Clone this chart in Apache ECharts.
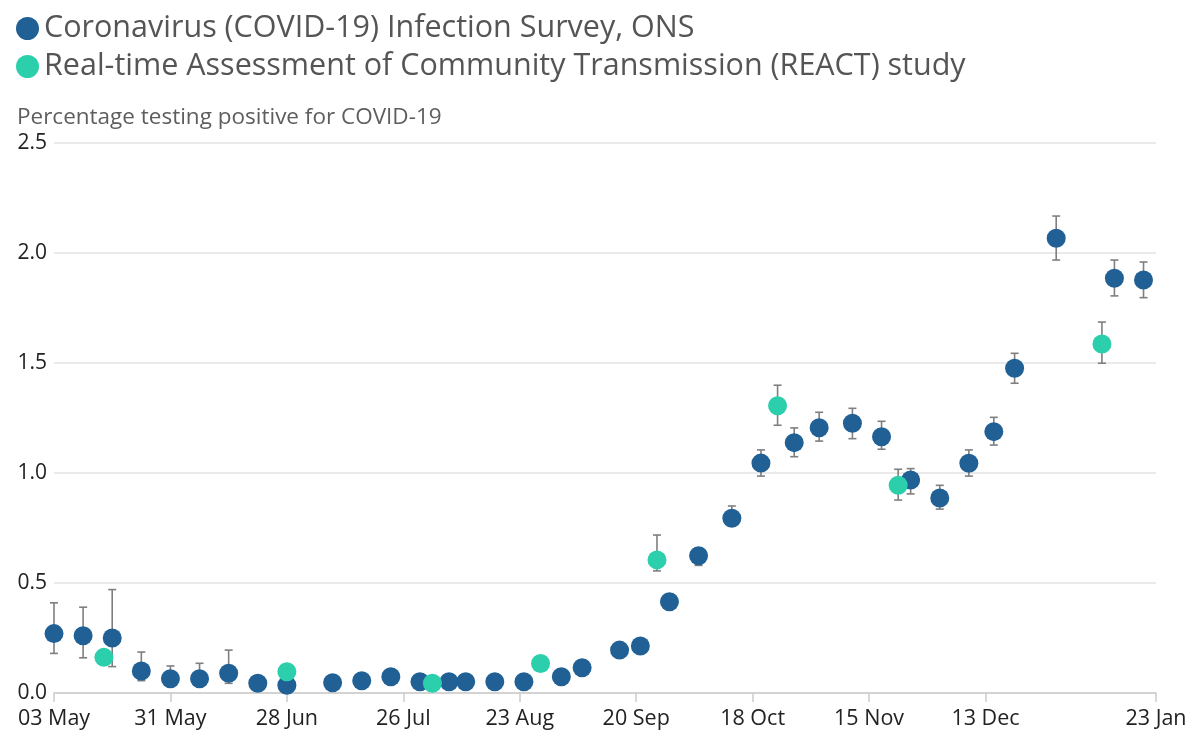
<!DOCTYPE html>
<html>
<head>
<meta charset="utf-8">
<script src="https://cdn.jsdelivr.net/npm/echarts@6/dist/echarts.min.js"></script>
<style>
html,body{margin:0;padding:0;background:#fff;}
#chart{width:1193px;height:737px;}
</style>
</head>
<body>
<div id="chart"></div>
<script>
// ---- Data ----
const onsName = 'Coronavirus (COVID-19) Infection Survey, ONS';
const reactName = 'Real-time Assessment of Community Transmission (REACT) study';
const yTitle = 'Percentage testing positive for COVID-19';

const onsDates = ['2020-05-03','2020-05-10','2020-05-17','2020-05-24','2020-05-31','2020-06-07','2020-06-14','2020-06-21','2020-06-28','2020-07-09','2020-07-16','2020-07-23','2020-07-30','2020-08-06','2020-08-10','2020-08-17','2020-08-24','2020-09-02','2020-09-07','2020-09-16','2020-09-21','2020-09-28','2020-10-05','2020-10-13','2020-10-20','2020-10-28','2020-11-03','2020-11-11','2020-11-18','2020-11-25','2020-12-02','2020-12-09','2020-12-15','2020-12-20','2020-12-30','2021-01-13','2021-01-20'];
const onsValues = [0.27,0.26,0.25,0.10,0.065,0.065,0.09,0.044,0.035,0.047,0.056,0.074,0.051,0.051,0.051,0.051,0.051,0.074,0.115,0.195,0.214,0.415,0.624,0.794,1.045,1.138,1.206,1.226,1.165,0.968,0.886,1.044,1.188,1.476,2.067,1.885,1.877];
const onsLower  = [0.18,0.16,0.12,0.056,0.04,0.04,0.044,0.03,0.02,0.03,0.04,0.05,0.035,0.035,0.035,0.035,0.035,0.05,0.09,0.17,0.19,0.38,0.58,0.76,0.986,1.074,1.145,1.156,1.108,0.905,0.836,0.986,1.127,1.408,1.968,1.805,1.797];
const onsUpper  = [0.41,0.39,0.47,0.186,0.123,0.135,0.195,0.07,0.06,0.07,0.08,0.10,0.07,0.07,0.07,0.07,0.07,0.10,0.14,0.22,0.24,0.45,0.66,0.85,1.105,1.205,1.276,1.294,1.235,1.02,0.944,1.105,1.253,1.544,2.168,1.968,1.959];

const reactDates  = ['2020-05-15','2020-06-28','2020-08-02','2020-08-28','2020-09-25','2020-10-24','2020-11-22','2021-01-10'];
const reactValues = [0.162,0.097,0.044,0.134,0.605,1.306,0.944,1.586];
const reactLower  = [0.13,0.07,0.03,0.11,0.555,1.217,0.877,1.499];
const reactUpper  = [0.19,0.12,0.06,0.16,0.718,1.399,1.017,1.686];

const xTickDates  = ['2020-05-03','2020-05-31','2020-06-28','2020-07-26','2020-08-23','2020-09-20','2020-10-18','2020-11-15','2020-12-13','2021-01-23'];
const xTickLabels = ['03 May','31 May','28 Jun','26 Jul','23 Aug','20 Sep','18 Oct','15 Nov','13 Dec','23 Jan'];
const xMin = '2020-05-03';
const xMax = '2021-01-23';

// ---- Helpers ----
const ts = s => Date.UTC(+s.slice(0,4), +s.slice(5,7) - 1, +s.slice(8,10));
const tickTs = xTickDates.map(ts);
const labelFor = v => { const i = tickTs.indexOf(v); return i >= 0 ? xTickLabels[i] : ''; };

const ONS_COLOR = '#206095';
const REACT_COLOR = '#2bcfab';
const ERR_COLOR = '#7f7f7f';
const FONT = "'Open Sans', sans-serif";

function errRender(params, api) {
  const x = api.value(0);
  const lo = api.coord([x, api.value(1)]);
  const hi = api.coord([x, api.value(2)]);
  const cw = 4;
  const st = {stroke: ERR_COLOR, lineWidth: 1.6};
  return {
    type: 'group',
    children: [
      {type: 'line', shape: {x1: lo[0], y1: lo[1], x2: hi[0], y2: hi[1]}, style: st},
      {type: 'line', shape: {x1: hi[0]-cw, y1: hi[1], x2: hi[0]+cw, y2: hi[1]}, style: st},
      {type: 'line', shape: {x1: lo[0]-cw, y1: lo[1], x2: lo[0]+cw, y2: lo[1]}, style: st}
    ]
  };
}

const onsPts = onsDates.map((d, i) => [ts(d), onsValues[i]]);
const onsErr = onsDates.map((d, i) => [ts(d), onsLower[i], onsUpper[i]]);
const reactPts = reactDates.map((d, i) => [ts(d), reactValues[i]]);
const reactErr = reactDates.map((d, i) => [ts(d), reactLower[i], reactUpper[i]]);

const chart = echarts.init(document.getElementById('chart'), null, {renderer: 'canvas'});
chart.setOption({
  animation: false,
  backgroundColor: '#fff',
  textStyle: {fontFamily: FONT},
  title: {
    text: yTitle,
    left: 12, top: 101,
    textStyle: {fontFamily: FONT, fontSize: 22.5, fontWeight: 'normal', color: '#5e5e5e'}
  },
  legend: {
    data: [onsName, reactName],
    orient: 'vertical',
    left: 11, top: 8,
    icon: 'circle',
    itemWidth: 23, itemHeight: 23,
    itemGap: 7,
    textStyle: {fontFamily: FONT, fontSize: 30.5, color: '#555'}
  },
  grid: {left: 54, right: 37, top: 143, bottom: 44, containLabel: false},
  xAxis: {
    type: 'value',
    min: ts(xMin), max: ts(xMax),
    splitLine: {show: false},
    axisLine: {show: true, lineStyle: {color: '#cccccc', width: 1.5}},
    axisTick: {show: true, customValues: tickTs, length: 9, lineStyle: {color: '#cccccc', width: 1.5}},
    axisLabel: {
      customValues: tickTs,
      formatter: v => labelFor(v),
      fontFamily: FONT, fontSize: 21.5, color: '#222', margin: 15,
      hideOverlap: false, showMinLabel: true, showMaxLabel: true
    }
  },
  yAxis: {
    type: 'value',
    min: 0, max: 2.5, interval: 0.5,
    axisLine: {show: false},
    axisTick: {show: false},
    splitLine: {show: true, lineStyle: {color: '#e3e3e3', width: 1.6}},
    axisLabel: {
      formatter: v => v.toFixed(1),
      fontFamily: FONT, fontSize: 21, color: '#222', margin: 7
    }
  },
  series: [
    {name: 'onsErr', type: 'custom', renderItem: errRender, data: onsErr, encode: {x: 0, y: [1, 2]}, z: 1, silent: true},
    {name: onsName, type: 'scatter', data: onsPts, symbol: 'circle', symbolSize: 19, itemStyle: {color: ONS_COLOR, opacity: 1}, z: 3},
    {name: 'reactErr', type: 'custom', renderItem: errRender, data: reactErr, encode: {x: 0, y: [1, 2]}, z: 4, silent: true},
    {name: reactName, type: 'scatter', data: reactPts, symbol: 'circle', symbolSize: 19, itemStyle: {color: REACT_COLOR, opacity: 1}, z: 5}
  ]
});
</script>
</body>
</html>
